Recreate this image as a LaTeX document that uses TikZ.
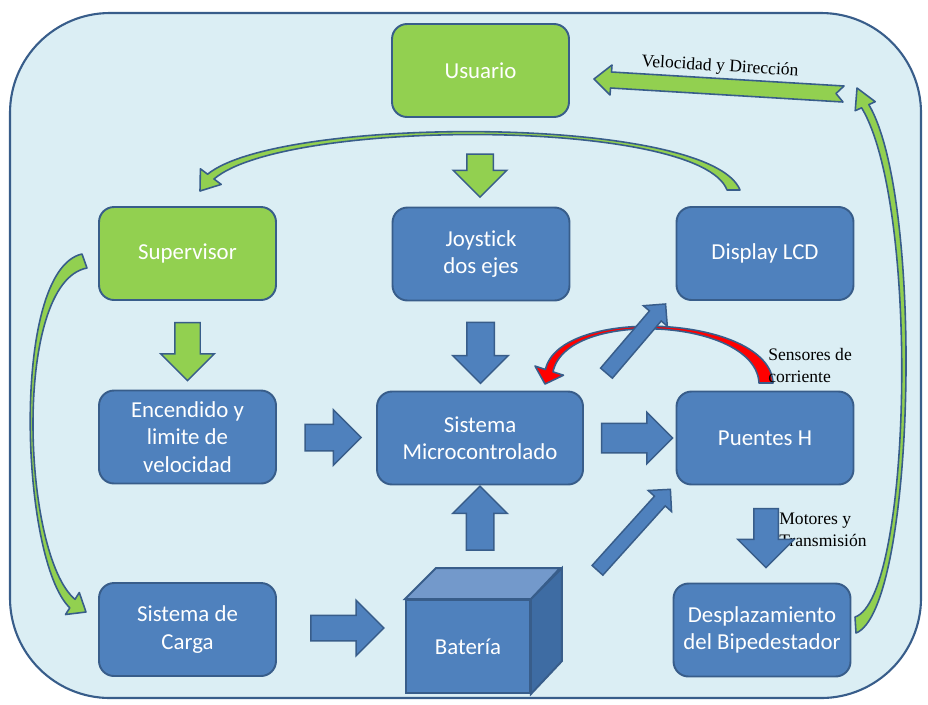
\documentclass[tikz,border=0pt]{standalone}
\usepackage{fontspec}
\setmainfont{Carlito}[Ligatures=NoCommon]
\newfontfamily\romana{Liberation Serif}
\usetikzlibrary{shapes.arrows,calc}
\definecolor{fondo}{HTML}{DBEEF4}
\definecolor{azul}{HTML}{4F81BD}
\definecolor{borde}{HTML}{385D8A}
\definecolor{verde}{HTML}{92D050}
\definecolor{rojo}{HTML}{FF0000}
\definecolor{cubotop}{HTML}{7399CB}
\definecolor{cubolado}{HTML}{3E6CA3}
\tikzset{
  caja/.style={draw=borde, line width=1.1pt, fill=azul, rounded corners=0.3cm,
    minimum width=3.54cm, minimum height=1.86cm, align=center, text=white,
    font=\fontsize{13}{15.5}\selectfont},
  cajaverde/.style={caja, fill=verde},
  flecha/.style={single arrow, draw=borde, line width=0.85pt, fill=azul, inner xsep=0pt, outer sep=0pt},
  flechaverde/.style={flecha, fill=verde},
  medidas/.style n args={3}{minimum height=#1, inner ysep=#2, single arrow head extend=#3},
  curva/.style={draw=borde, line width=0.9pt, fill=verde, line join=round},
  etiqueta/.style={font=\romana\fontsize{10}{12.5}\selectfont, inner sep=0pt, align=left}
}
\begin{document}
\begin{tikzpicture}[x=0.02cm,y=-0.02cm]
\useasboundingbox (0,0) rectangle (928,704);
\filldraw[fill=fondo,draw=borde,line width=1.2pt,rounded corners=2cm] (10,13) rectangle (921,698);

% curved arrows
\filldraw[curva] (740,190) .. controls (710,115) and (280,115) .. (207.6,174.2) -- (200.4,168.8) -- (200,191) -- (221.2,184.4) -- (214,179) .. controls (285,118) and (700,118) .. (727,190) -- cycle;
\filldraw[curva] (82,254) .. controls (10,270) and (20,560) .. (69.8,607.8) -- (65.5,614.5) -- (86,612) -- (79.3,592.5) -- (75,599.3) .. controls (22,555) and (12,282) .. (87,268) -- cycle;
\filldraw[curva] (856,633) .. controls (915,610) and (925,200) .. (868.8,104.6) -- (875.2,101.7) -- (857,88) -- (855.2,110.7) -- (861.6,107.8) .. controls (920,205) and (912,598) .. (855,617) -- cycle;
\filldraw[curva] (594,79) -- (612,65) -- (611.5,72) -- (844,86) -- (836,93.5) -- (843,102) -- (610.5,88) -- (610,95) -- cycle;
\node[etiqueta,rotate=-3.5] (lblvel) at (720,67) {Velocidad y Dirección};

% boxes
\node[cajaverde] (usr) at (480.5,70.5) {Usuario};
\node[cajaverde] (sup) at (187.5,253.5) {Supervisor};
\node[caja] (joy) at (481,254) {Joystick\\dos ejes};
\node[caja] (lcd) at (765,253.5) {Display LCD};
\node[caja] (enc) at (187.5,437) {Encendido y\\limite de\\velocidad};
\node[caja,minimum width=4.12cm] (mic) at (480,438) {Sistema\\Microcontrolado};
\node[caja] (pue) at (765,438) {Puentes H};
\node[caja] (car) at (187.5,629.5) {Sistema de\\Carga};
\node[caja] (dsp) at (762,630) {Desplazamiento\\del Bipedestador};

% battery
\node[caja,rounded corners=0pt,minimum width=2.48cm] (bat) at (468,646.5) {Batería};
\filldraw[fill=cubotop,draw=borde,line width=1.1pt] (bat.north west) -- ++(31,-31) -- ++(124,0) -- (bat.north east) -- cycle;
\filldraw[fill=cubolado,draw=borde,line width=1.1pt] (bat.north east) -- ++(31,-31) -- ++(0,93) -- (bat.south east) -- cycle;

% sensores
\filldraw[curva,fill=rojo] (773,383) .. controls (770,315) and (560,305) .. (545.4,369.5) -- (535,366) -- (545,384) -- (563.5,375.2) -- (553,371.9) .. controls (566,308) and (756,318) .. (759,383) -- cycle;
\node[etiqueta,anchor=west] (lblsen) at (768,365) {Sensores de\\corriente};
\node[etiqueta,anchor=west] (lblmot) at (779,530) {Motores y\\Transmisión};

% block arrows
\node[flechaverde,rotate=-90,medidas={0.86cm}{0.25cm}{0.27cm}] (aUJ) at (480,169) {};
\node[flechaverde,rotate=-90,medidas={1.16cm}{0.24cm}{0.28cm}] (aSE) at ($(sup.south)!0.5!(enc.north)$) {};
\node[flecha,rotate=-90,medidas={1.22cm}{0.26cm}{0.28cm}] (aJM) at ($(joy.south)!0.5!(mic.north)$) {};
\node[flecha,medidas={1.12cm}{0.25cm}{0.29cm}] (aEM) at ($(enc.east)!0.5!(mic.west)$) {};
\node[flecha,medidas={1.42cm}{0.28cm}{0.22cm}] (aMP) at ($(mic.east)!0.5!(pue.west)$) {};
\node[flecha,rotate=90,medidas={1.28cm}{0.26cm}{0.27cm}] (aBM) at (480,525) {};
\node[flecha,medidas={1.46cm}{0.24cm}{0.3cm}] (aCB) at (341,628) {};
\node[flecha,rotate=48,medidas={2.18cm}{0.13cm}{0.17cm}] (aBP) at (631.5,532.5) {};
\node[flecha,rotate=49.5,medidas={1.82cm}{0.14cm}{0.16cm}] (aML) at (633.5,341.5) {};
\node[flecha,rotate=-90,medidas={1.18cm}{0.23cm}{0.32cm}] (aPD) at (766,532) {};
\end{tikzpicture}
\end{document}
